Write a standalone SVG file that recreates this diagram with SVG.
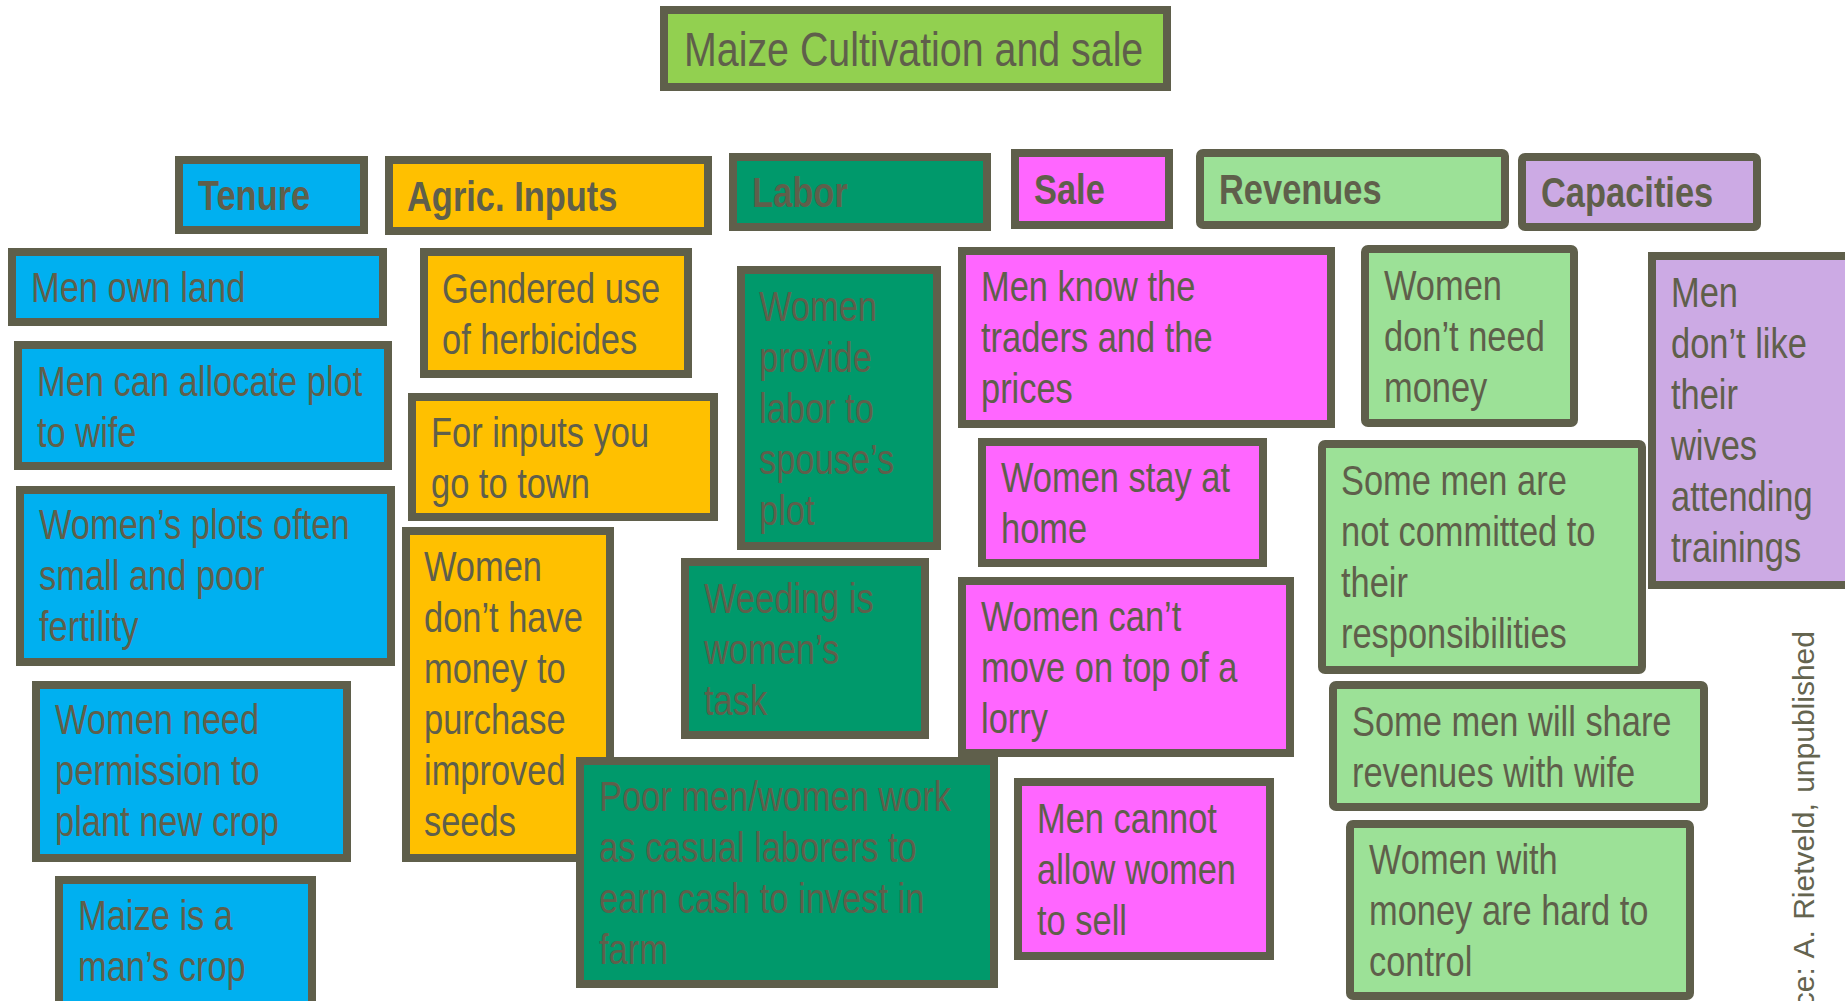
<svg xmlns="http://www.w3.org/2000/svg" width="1845" height="1001" viewBox="0 0 1845 1001">
<style>
rect{stroke:#5F5F4B;stroke-width:8}
text{font-family:"Liberation Sans",Arial,sans-serif;fill:#5F5F4B}
.b{font-size:42px}
.h{font-size:42px;font-weight:bold}
.t{font-size:48px}
.src{font-size:30px;fill:#64644F}
.ti{fill:#92D050}.te{fill:#00B0F0}.ag{fill:#FFC000}.la{fill:#00996B}.sa{fill:#FF66FF}.re{fill:#9CE197}.ca{fill:#CCAAE4}
</style>
<rect width="1845" height="1001" fill="#FFFFFF" style="stroke:none"/>
<g id="title"><rect class="ti" x="664" y="10" width="503" height="77"/><text class="t" transform="translate(684,66) scale(0.82,1)">Maize Cultivation and sale</text></g>

<g id="h-tenure"><rect class="te" x="179" y="160" width="185" height="70"/><text class="h" transform="translate(198,210) scale(0.82,1)">Tenure</text></g>
<g id="h-agric"><rect class="ag" x="389" y="160" width="319" height="71"/><text class="h" transform="translate(407,211) scale(0.82,1)">Agric. Inputs</text></g>
<g id="h-labor"><rect class="la" x="733" y="157" width="254" height="70"/><text class="h" transform="translate(752,207) scale(0.82,1)">Labor</text></g>
<g id="h-sale"><rect class="sa" x="1015" y="153" width="154" height="72"/><text class="h" transform="translate(1034,204) scale(0.82,1)">Sale</text></g>
<g id="h-revenues"><rect class="re" x="1200" y="153" width="305" height="72" rx="3"/><text class="h" transform="translate(1219,204) scale(0.82,1)">Revenues</text></g>
<g id="h-capacities"><rect class="ca" x="1522" y="157" width="235" height="70" rx="3"/><text class="h" transform="translate(1541,207) scale(0.82,1)">Capacities</text></g>

<g id="n1"><rect class="te" x="12" y="252" width="371" height="70"/><text class="b" transform="translate(31,302) scale(0.82,1)">Men own land</text></g>
<g id="n2"><rect class="te" x="18" y="345" width="370" height="121"/><text class="b" transform="translate(37,396) scale(0.82,1)"><tspan x="0">Men can allocate plot</tspan><tspan x="0" dy="51">to wife</tspan></text></g>
<g id="n3"><rect class="te" x="20" y="490" width="371" height="172"/><text class="b" transform="translate(39,539) scale(0.82,1)"><tspan x="0">Women’s plots often</tspan><tspan x="0" dy="51">small and poor</tspan><tspan x="0" dy="51">fertility</tspan></text></g>
<g id="n4"><rect class="te" x="36" y="685" width="311" height="173"/><text class="b" transform="translate(55,734) scale(0.82,1)"><tspan x="0">Women need</tspan><tspan x="0" dy="51">permission to</tspan><tspan x="0" dy="51">plant new crop</tspan></text></g>
<g id="n5"><rect class="te" x="59" y="880" width="253" height="130"/><text class="b" transform="translate(78,930) scale(0.82,1)"><tspan x="0">Maize is a</tspan><tspan x="0" dy="51">man’s crop</tspan></text></g>

<g id="n6"><rect class="ag" x="424" y="252" width="264" height="122"/><text class="b" transform="translate(442,303) scale(0.82,1)"><tspan x="0">Gendered use</tspan><tspan x="0" dy="51">of herbicides</tspan></text></g>
<g id="n7"><rect class="ag" x="412" y="397" width="302" height="120"/><text class="b" transform="translate(431,447) scale(0.82,1)"><tspan x="0">For inputs you</tspan><tspan x="0" dy="51">go to town</tspan></text></g>
<g id="n8"><rect class="ag" x="406" y="531" width="204" height="327"/><text class="b" transform="translate(424,581) scale(0.82,1)"><tspan x="0">Women</tspan><tspan x="0" dy="51">don’t have</tspan><tspan x="0" dy="51">money to</tspan><tspan x="0" dy="51">purchase</tspan><tspan x="0" dy="51">improved</tspan><tspan x="0" dy="51">seeds</tspan></text></g>

<g id="n9"><rect class="la" x="741" y="270" width="196" height="276"/><text class="b" transform="translate(759,321) scale(0.82,1)"><tspan x="0">Women</tspan><tspan x="0" dy="51">provide</tspan><tspan x="0" dy="51">labor to</tspan><tspan x="0" dy="51">spouse’s</tspan><tspan x="0" dy="51">plot</tspan></text></g>
<g id="n10"><rect class="la" x="685" y="562" width="240" height="173"/><text class="b" transform="translate(704,613) scale(0.82,1)"><tspan x="0">Weeding is</tspan><tspan x="0" dy="51">women’s</tspan><tspan x="0" dy="51">task</tspan></text></g>
<g id="n11"><rect class="la" x="580" y="761" width="414" height="223"/><text class="b" transform="translate(599,811) scale(0.82,1)"><tspan x="0">Poor men/women work</tspan><tspan x="0" dy="51">as casual laborers to</tspan><tspan x="0" dy="51">earn cash to invest in</tspan><tspan x="0" dy="51">farm</tspan></text></g>

<g id="n12"><rect class="sa" x="962" y="251" width="369" height="173"/><text class="b" transform="translate(981,301) scale(0.82,1)"><tspan x="0">Men know the</tspan><tspan x="0" dy="51">traders and the</tspan><tspan x="0" dy="51">prices</tspan></text></g>
<g id="n13"><rect class="sa" x="982" y="442" width="281" height="121"/><text class="b" transform="translate(1001,492) scale(0.82,1)"><tspan x="0">Women stay at</tspan><tspan x="0" dy="51">home</tspan></text></g>
<g id="n14"><rect class="sa" x="962" y="581" width="328" height="172"/><text class="b" transform="translate(981,631) scale(0.82,1)"><tspan x="0">Women can’t</tspan><tspan x="0" dy="51">move on top of a</tspan><tspan x="0" dy="51">lorry</tspan></text></g>
<g id="n15"><rect class="sa" x="1018" y="782" width="252" height="174"/><text class="b" transform="translate(1037,833) scale(0.82,1)"><tspan x="0">Men cannot</tspan><tspan x="0" dy="51">allow women</tspan><tspan x="0" dy="51">to sell</tspan></text></g>

<g id="n16"><rect class="re" x="1365" y="249" width="209" height="174" rx="3"/><text class="b" transform="translate(1384,300) scale(0.82,1)"><tspan x="0">Women</tspan><tspan x="0" dy="51">don’t need</tspan><tspan x="0" dy="51">money</tspan></text></g>
<g id="n17"><rect class="re" x="1322" y="444" width="320" height="226" rx="3"/><text class="b" transform="translate(1341,495) scale(0.82,1)"><tspan x="0">Some men are</tspan><tspan x="0" dy="51">not committed to</tspan><tspan x="0" dy="51">their</tspan><tspan x="0" dy="51">responsibilities</tspan></text></g>
<g id="n18"><rect class="re" x="1333" y="685" width="371" height="122" rx="3"/><text class="b" transform="translate(1352,736) scale(0.82,1)"><tspan x="0">Some men will share</tspan><tspan x="0" dy="51">revenues with wife</tspan></text></g>
<g id="n19"><rect class="re" x="1350" y="824" width="340" height="172" rx="3"/><text class="b" transform="translate(1369,874) scale(0.82,1)"><tspan x="0">Women with</tspan><tspan x="0" dy="51">money are hard to</tspan><tspan x="0" dy="51">control</tspan></text></g>

<g id="n20"><rect class="ca" x="1652" y="256" width="200" height="329"/><text class="b" transform="translate(1671,307) scale(0.82,1)"><tspan x="0">Men</tspan><tspan x="0" dy="51">don’t like</tspan><tspan x="0" dy="51">their</tspan><tspan x="0" dy="51">wives</tspan><tspan x="0" dy="51">attending</tspan><tspan x="0" dy="51">trainings</tspan></text></g>

<g id="connectors"></g>
<g id="source"><text class="src" text-anchor="end" word-spacing="2" transform="translate(1814,631) rotate(-90)">ce: A. Rietveld, unpublished</text></g>
</svg>
